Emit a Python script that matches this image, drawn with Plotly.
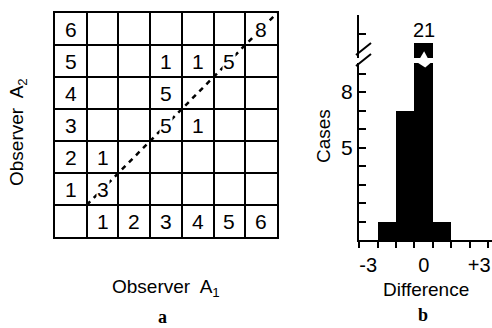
import plotly.graph_objects as go

# Panel a: agreement table between two observers (scores 1-6)
scores = [1, 2, 3, 4, 5, 6]
score_labels = ["1", "2", "3", "4", "5", "6"]
a1_scores = [1, 1, 3, 4, 3, 3, 4, 5, 6]
a2_scores = [1, 2, 3, 3, 4, 5, 5, 5, 6]
pair_counts = [3, 1, 5, 1, 5, 1, 1, 5, 8]

# Panel b: distribution of the score difference A1 - A2
diff_values = [-2, -1, 0, 1]
diff_cases = [1, 7, 21, 1]
diff_tick_vals = [-3, 0, 3]
diff_tick_text = ["-3", "0", "+3"]
case_tick_vals = [5, 8]
case_tick_text = ["5", "8"]

W, H = 492, 328
SANS = "Liberation Sans, Arial, Helvetica, sans-serif"
SERIF = "Liberation Serif, Times New Roman, serif"


def px(x):
    return x / W


def py(y):
    return (H - y) / H


n_cells = len(scores) + 1
fig = go.Figure()

# identity line A2 = A1 through the diagonal cells
fig.add_trace(go.Scatter(
    x=[1, n_cells], y=[1, n_cells], mode="lines",
    line=dict(color="black", width=2.5, dash="5px,5px"),
    xaxis="x", yaxis="y", hoverinfo="skip", showlegend=False,
))

# histogram, lower part of the broken axis and the top segment
for ya in ("y2", "y3"):
    fig.add_trace(go.Bar(
        x=diff_values, y=diff_cases, width=1,
        marker=dict(color="black", line=dict(width=0)),
        xaxis="x2", yaxis=ya, hoverinfo="skip", showlegend=False,
    ))

annotations = []
num_font = dict(family=SANS, size=21, color="black")
# row labels (A2 scores) in the first column, column labels (A1) in the bottom row
for s, lab in zip(scores, score_labels):
    annotations.append(dict(x=0.5, y=s + 0.5, xref="x", yref="y", text=lab,
                            showarrow=False, font=num_font))
    annotations.append(dict(x=s + 0.5, y=0.5, xref="x", yref="y", text=lab,
                            showarrow=False, font=num_font))
# counts in the table
for a1, a2, c in zip(a1_scores, a2_scores, pair_counts):
    annotations.append(dict(x=a1 + 0.5, y=a2 + 0.5, xref="x", yref="y", text=str(c),
                            showarrow=False, font=num_font, bgcolor="white", borderpad=0))

# value of the broken bar
peak = max(diff_cases)
annotations.append(dict(x=diff_values[diff_cases.index(peak)], y=peak, xref="x2", yref="y3",
                        text=str(peak), showarrow=False, yanchor="bottom", yshift=0,
                        font=dict(family=SANS, size=20, color="black")))

title_font = dict(family=SANS, size=19, color="black")
lab = dict(xref="paper", yref="paper", showarrow=False, xanchor="center", yanchor="middle")
annotations += [
    dict(x=px(166), y=py(288), text="Observer  A<sub>1</sub>", font=title_font, **lab),
    dict(x=px(18), y=py(132), text="Observer  A<sub>2</sub>", textangle=-90, font=title_font, **lab),
    dict(x=px(162), y=py(317), text="<b>a</b>", font=dict(family=SERIF, size=18, color="black"), **lab),
    dict(x=px(426), y=py(289), text="Difference", font=title_font, **lab),
    dict(x=px(323), y=py(136), text="Cases", textangle=-90, font=title_font, **lab),
    dict(x=px(423), y=py(315), text="<b>b</b>", font=dict(family=SERIF, size=18, color="black"), **lab),
]

shapes = [
    # axis break marks
    dict(type="line", xref="paper", yref="paper", x0=px(356), y0=py(55), x1=px(371), y1=py(43),
         line=dict(color="black", width=2)),
    dict(type="line", xref="paper", yref="paper", x0=px(356), y0=py(66), x1=px(371), y1=py(54),
         line=dict(color="black", width=2)),
    # notches on either side of the break
    dict(type="path", xref="x2", yref="y2", path="M -0.32 9.58 L 0.08 9.32 L 0.38 9.58 Z",
         fillcolor="white", line=dict(width=0), layer="above"),
    dict(type="path", xref="x2", yref="y3", path="M -0.2 20.18 L 0.02 20.55 L 0.22 20.18 Z",
         fillcolor="white", line=dict(width=0), layer="above"),
]

grid_axis = dict(range=[0, n_cells], tick0=0, dtick=1, showgrid=True, gridcolor="black",
                 gridwidth=2, showline=True, mirror=True, linecolor="black", linewidth=2,
                 showticklabels=False, ticks="", zeroline=False, fixedrange=True)

fig.update_layout(
    width=W, height=H,
    margin=dict(l=0, r=0, t=0, b=0),
    paper_bgcolor="white", plot_bgcolor="white",
    bargap=0, showlegend=False,
    xaxis=dict(domain=[px(55), px(277)], anchor="y", **grid_axis),
    yaxis=dict(domain=[py(237), py(13)], anchor="x", **grid_axis),
    xaxis2=dict(domain=[px(359), 1.0], range=[-3.5, 3.69], anchor="y2",
                showline=True, linecolor="black", linewidth=2, showgrid=False, zeroline=False,
                tickmode="array", tickvals=diff_tick_vals, ticktext=diff_tick_text, ticks="",
                ticklabelstandoff=6,
                tickfont=dict(family=SANS, size=20, color="black"),
                minor=dict(tickmode="linear", tick0=-3.5, dtick=1, ticks="outside", ticklen=6,
                           tickwidth=2, tickcolor="black", showgrid=False),
                fixedrange=True),
    yaxis2=dict(domain=[py(240), py(63)], range=[0, 9.568], anchor="x2",
                showline=True, linecolor="black", linewidth=2, showgrid=False, zeroline=False,
                tickmode="array", tickvals=case_tick_vals, ticktext=case_tick_text,
                ticks="inside", ticklen=7, tickwidth=2, tickcolor="black",
                minor=dict(tickmode="linear", tick0=0, dtick=1, ticks="inside", ticklen=7,
                           tickwidth=2, tickcolor="black", showgrid=False),
                tickfont=dict(family=SANS, size=21, color="black"), fixedrange=True),
    yaxis3=dict(domain=[py(58), py(15)], range=[20.19, 22.514], anchor="x2",
                showline=True, linecolor="black", linewidth=2, showgrid=False, zeroline=False,
                tickmode="array", tickvals=[21.5, 22.5], showticklabels=False,
                ticks="inside", ticklen=7, tickwidth=2, tickcolor="black", fixedrange=True),
    annotations=annotations,
    shapes=shapes,
)

fig.write_html("out.html")
